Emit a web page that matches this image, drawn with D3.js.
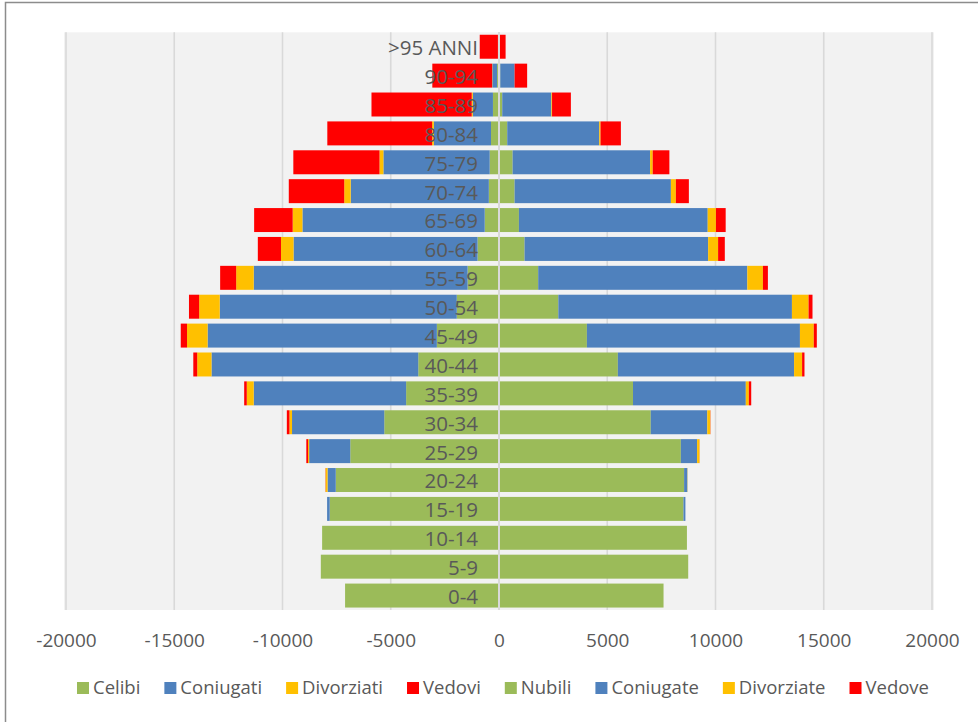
<!DOCTYPE html>
<html>
<head>
<meta charset="utf-8">
<script src="https://cdn.jsdelivr.net/npm/d3@7"></script>
<style>
  html, body { margin: 0; padding: 0; background: #ffffff; }
  svg { display: block; }
  text { font-family: "Open Sans", "Liberation Sans", sans-serif; fill: #595959; }
</style>
</head>
<body>
<svg id="chart" width="978" height="722"></svg>
<script>
// Age classes, from the youngest (bottom) to the oldest (top)
const ageClasses = ["0-4", "5-9", "10-14", "15-19", "20-24", "25-29", "30-34", "35-39",
  "40-44", "45-49", "50-54", "55-59", "60-64", "65-69", "70-74", "75-79",
  "80-84", "85-89", "90-94", ">95 ANNI"];

// Men by marital status (drawn to the left of zero)
const celibi     = [7110, 8230, 8170, 7820, 7540, 6870, 5300, 4290, 3730, 2870, 1950, 1450, 990, 660, 470, 430, 370, 280, 90, 20];
const coniugati  = [0, 0, 0, 120, 380, 1900, 4260, 7040, 9550, 10590, 10950, 9880, 8500, 8420, 6380, 4910, 2640, 930, 220, 30];
const divorziati = [0, 0, 0, 0, 90, 50, 120, 320, 660, 950, 950, 810, 580, 450, 300, 180, 80, 50, 10, 0];
const vedovi     = [0, 0, 0, 0, 10, 80, 120, 120, 180, 290, 470, 740, 1070, 1780, 2560, 3980, 4840, 4630, 2760, 840];

// Women by marital status (drawn to the right of zero)
const nubili     = [7600, 8740, 8680, 8520, 8550, 8400, 7010, 6190, 5490, 4060, 2740, 1810, 1180, 920, 720, 630, 380, 150, 60, 15];
const coniugate  = [0, 0, 0, 90, 150, 750, 2610, 5210, 8140, 9840, 10790, 9660, 8480, 8720, 7220, 6350, 4250, 2270, 660, 10];
const divorziate = [0, 0, 0, 0, 10, 110, 140, 140, 370, 640, 770, 720, 460, 380, 230, 120, 60, 30, 0, 0];
const vedove     = [0, 0, 0, 0, 0, 5, 10, 110, 110, 140, 180, 230, 310, 450, 600, 770, 940, 870, 580, 280];

const xTicks = [-20000, -15000, -10000, -5000, 0, 5000, 10000, 15000, 20000];

const menKeys = ["Celibi", "Coniugati", "Divorziati", "Vedovi"];
const womenKeys = ["Nubili", "Coniugate", "Divorziate", "Vedove"];
const colors = ["#9BBB59", "#4F81BD", "#FFC000", "#FF0000"];

const menSeries = [celibi, coniugati, divorziati, vedovi];
const womenSeries = [nubili, coniugate, divorziate, vedove];

const rows = ageClasses.map((age, i) => {
  const r = { age };
  menKeys.forEach((k, j) => r[k] = menSeries[j][i]);
  womenKeys.forEach((k, j) => r[k] = womenSeries[j][i]);
  return r;
});

const svg = d3.select("#chart");
const W = 978, H = 722;

// chart frame
svg.append("rect")
  .attr("x", 5.5).attr("y", 2.5)
  .attr("width", W + 20).attr("height", H + 20)
  .attr("fill", "#ffffff")
  .attr("stroke", "#8c8c8c").attr("stroke-width", 1.5);

const plot = { left: 66, right: 932, top: 32.3, bottom: 610 };

// plot background
svg.append("rect")
  .attr("x", plot.left - 2).attr("y", plot.top)
  .attr("width", plot.right - plot.left + 4)
  .attr("height", plot.bottom - plot.top)
  .attr("fill", "#f2f2f2");

const x = d3.scaleLinear().domain([-20000, 20000]).range([plot.left, plot.right]);
const y = d3.scaleBand()
  .domain(ageClasses.slice().reverse())
  .range([plot.top, plot.bottom])
  .paddingInner(0.17)
  .paddingOuter(0.085);

// vertical gridlines
svg.append("g")
  .selectAll("line")
  .data(xTicks)
  .join("line")
  .attr("x1", d => x(d)).attr("x2", d => x(d))
  .attr("y1", plot.top).attr("y2", plot.bottom)
  .attr("stroke", "#d9d9d9")
  .attr("stroke-width", 1.6);

// stacked bars: men to the left, women to the right
const menStack = d3.stack().keys(menKeys)(rows);
const womenStack = d3.stack().keys(womenKeys)(rows);

const gBars = svg.append("g");
menStack.forEach((layer, j) => {
  gBars.append("g")
    .attr("fill", colors[j])
    .selectAll("rect")
    .data(layer)
    .join("rect")
    .attr("x", d => x(-d[1]))
    .attr("width", d => Math.max(0, x(-d[0]) - x(-d[1])))
    .attr("y", d => y(d.data.age))
    .attr("height", y.bandwidth());
});
womenStack.forEach((layer, j) => {
  gBars.append("g")
    .attr("fill", colors[j])
    .selectAll("rect")
    .data(layer)
    .join("rect")
    .attr("x", d => x(d[0]))
    .attr("width", d => Math.max(0, x(d[1]) - x(d[0])))
    .attr("y", d => y(d.data.age))
    .attr("height", y.bandwidth());
});

// vertical axis line at zero
svg.append("line")
  .attr("x1", x(0)).attr("x2", x(0))
  .attr("y1", plot.top).attr("y2", plot.bottom)
  .attr("stroke", "#d9d9d9")
  .attr("stroke-width", 2);

// age class labels
svg.append("g")
  .selectAll("text")
  .data(ageClasses)
  .join("text")
  .attr("x", x(0) - 21)
  .attr("y", d => y(d) + y.bandwidth() / 2 + 1)
  .attr("dy", "0.36em")
  .attr("text-anchor", "end")
  .style("font-size", "20.5px")
  .text(d => d);

// horizontal axis tick labels (plain hyphen for negatives)
const xAxis = d3.axisBottom(x).tickValues(xTicks).tickSize(0).tickPadding(0)
  .tickFormat(d => String(d));
const gx = svg.append("g")
  .attr("transform", `translate(0, 629)`)
  .call(xAxis);
gx.select(".domain").remove();
gx.selectAll("text")
  .attr("y", 0).attr("dy", "0.95em")
  .style("font-size", "19px")
  .style("font-family", "'Open Sans', sans-serif")
  .attr("fill", "#595959");

// legend
const legendKeys = menKeys.concat(womenKeys);
const legendColors = colors.concat(colors);
const sw = 12, swGap = 4, itemGap = 24;
const gLeg = svg.append("g");
const items = gLeg.selectAll("g").data(legendKeys).join("g");
items.append("rect")
  .attr("width", sw).attr("height", sw)
  .attr("y", -sw / 2)
  .attr("fill", (d, i) => legendColors[i]);
items.append("text")
  .attr("x", sw + swGap)
  .attr("dy", "0.35em")
  .style("font-size", "18.5px")
  .text(d => d);
let cx = 0;
const widths = [];
items.each(function() {
  const w = sw + swGap + this.querySelector("text").getComputedTextLength();
  widths.push(w);
});
const total = d3.sum(widths) + itemGap * (widths.length - 1);
let start = 503 - total / 2;
items.attr("transform", (d, i) => {
  const t = `translate(${start + cx}, 688)`;
  cx += widths[i] + itemGap;
  return t;
});
</script>
</body>
</html>
